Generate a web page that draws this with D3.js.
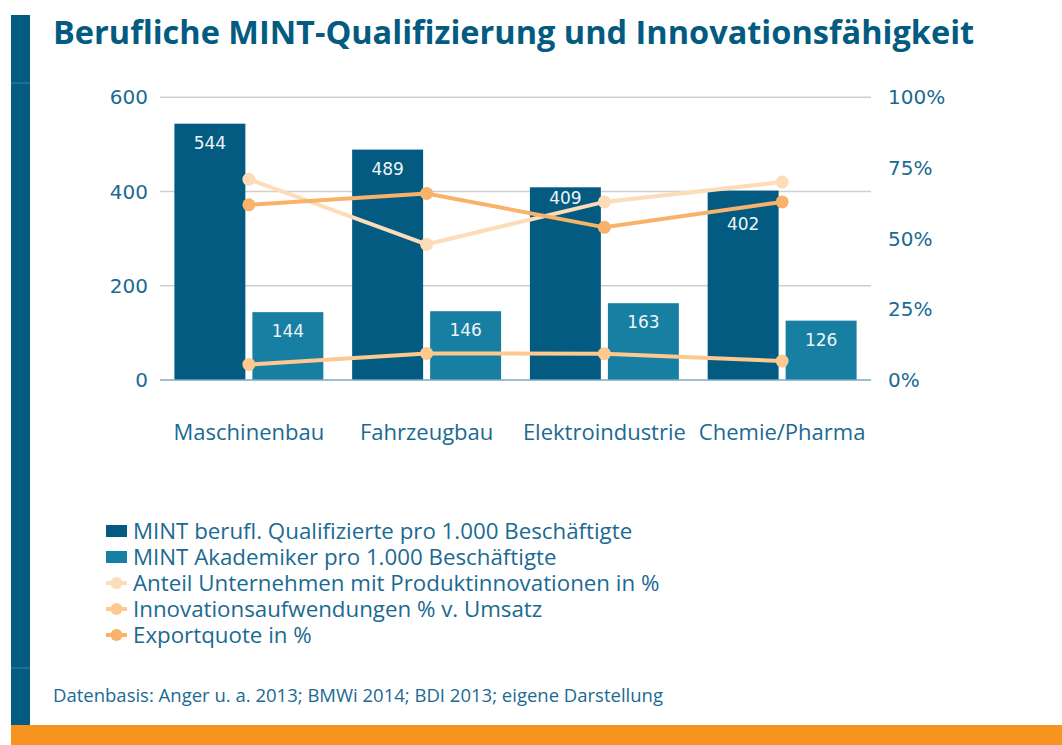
<!DOCTYPE html>
<html>
<head>
<meta charset="utf-8">
<script src="https://cdn.jsdelivr.net/npm/d3@7"></script>
<style>
  body { margin: 0; background: #fff; }
  svg { display: block; font-family: "Open Sans", sans-serif; }
  .tick-label { fill: #1b6a92; font-size: 20px; }
  .cat-label { fill: #1b6a92; font-size: 22px; }
  .legend-text { fill: #1b6a92; font-size: 22.3px; }
  .bar-value { fill: #eef4f8; font-size: 17px; text-anchor: middle; font-family: "DejaVu Sans", sans-serif; }
</style>
</head>
<body>
<svg id="chart" width="1062" height="745"></svg>
<script>
// chart data
var categories = ["Maschinenbau", "Fahrzeugbau", "Elektroindustrie", "Chemie/Pharma"];
var mint_beruflich = [544, 489, 409, 402];      // pro 1.000 Beschäftigte
var mint_akademiker = [144, 146, 163, 126];     // pro 1.000 Beschäftigte
var anteil_produktinno = [71, 48, 63, 70];      // %
var innovationsaufwand = [5.5, 9.4, 9.3, 6.7];  // % v. Umsatz
var exportquote = [62, 66, 54, 63];             // %

var left_ticks = [0, 200, 400, 600];
var right_ticks = [0, 25, 50, 75, 100];

var bar_series = [
  {name: "MINT berufl. Qualifizierte pro 1.000 Beschäftigte", values: mint_beruflich, color: "#035b81"},
  {name: "MINT Akademiker pro 1.000 Beschäftigte", values: mint_akademiker, color: "#177fa2"}
];
var line_series = [
  {name: "Anteil Unternehmen mit Produktinnovationen in %", values: anteil_produktinno, color: "#fddcb9"},
  {name: "Innovationsaufwendungen % v. Umsatz", values: innovationsaufwand, color: "#fec98f"},
  {name: "Exportquote in %", values: exportquote, color: "#f9b269"}
];

// labels of the dark bars nudged so they don't sit on the lines
var label_nudge = {"Elektroindustrie": -8, "Chemie/Pharma": 14};

var svg = d3.select("#chart");

// page frame: left stripe + orange footer band
svg.append("rect").attr("x", 11).attr("y", 15).attr("width", 19).attr("height", 710).attr("fill", "#035b81");
svg.append("line").attr("x1", 11).attr("x2", 30).attr("y1", 83).attr("y2", 83).attr("stroke", "#3f82a4").attr("stroke-width", 1);
svg.append("line").attr("x1", 11).attr("x2", 30).attr("y1", 668).attr("y2", 668).attr("stroke", "#3f82a4").attr("stroke-width", 1);
svg.append("rect").attr("x", 11).attr("y", 725).attr("width", 1051).attr("height", 20).attr("fill", "#f7941f");

// title
svg.append("text")
   .attr("x", 53).attr("y", 44)
   .attr("fill", "#035b81")
   .style("font-size", "32.5px").style("font-weight", "bold")
   .text("Berufliche MINT-Qualifizierung und Innovationsfähigkeit");

// plot area (note: "top" is reserved on window, so use plot_*)
var plot_left = 160, plot_right = 871, plot_top = 97.3, plot_bottom = 380;

var x0 = d3.scaleBand().domain(categories).range([plot_left, plot_right])
           .paddingInner(0.162).paddingOuter(0.081);
var x1 = d3.scaleBand().domain([0, 1]).range([0, x0.bandwidth()]).paddingInner(0.09);
var y = d3.scaleLinear().domain([0, 600]).range([plot_bottom, plot_top]);
var y2 = d3.scaleLinear().domain([0, 100]).range([plot_bottom, plot_top]);

// gridlines
svg.selectAll(".grid")
   .data(left_ticks.filter(d => d > 0))
   .enter().append("line")
   .attr("class", "grid")
   .attr("x1", plot_left).attr("x2", plot_right)
   .attr("y1", d => y(d)).attr("y2", d => y(d))
   .attr("stroke", "#cfcfcf").attr("stroke-width", 1.5);

// left axis labels
svg.selectAll(".ly")
   .data(left_ticks)
   .enter().append("text")
   .attr("class", "tick-label")
   .attr("x", 148).attr("y", d => y(d) + 7)
   .attr("text-anchor", "end")
   .style("font-family", "DejaVu Sans")
   .text(d => d);

// right axis labels
svg.selectAll(".ry")
   .data(right_ticks)
   .enter().append("text")
   .attr("class", "tick-label")
   .attr("x", 888).attr("y", d => y2(d) + 7)
   .style("font-family", "DejaVu Sans")
   .text(d => d + "%");

// bars
var groups = svg.selectAll(".group")
   .data(categories)
   .enter().append("g")
   .attr("transform", d => "translate(" + x0(d) + ",0)");

bar_series.forEach(function(s, si) {
    groups.append("rect")
          .attr("x", x1(si))
          .attr("width", x1.bandwidth())
          .attr("y", (d, i) => y(s.values[i]))
          .attr("height", (d, i) => plot_bottom - y(s.values[i]))
          .attr("fill", s.color);
});

// baseline
svg.append("line")
   .attr("x1", plot_left).attr("x2", plot_right)
   .attr("y1", plot_bottom).attr("y2", plot_bottom)
   .attr("stroke", "#7fa7c0").attr("stroke-width", 1.5);

// lines on the right axis
var cx = d => x0(d) + x0.bandwidth() / 2;

line_series.forEach(function(s) {
    var line = d3.line()
                 .x(d => cx(d[0]))
                 .y(d => y2(d[1]));
    var data = categories.map((c, i) => [c, s.values[i]]);

    svg.append("path")
       .datum(data)
       .attr("d", line)
       .attr("fill", "none")
       .attr("stroke", s.color)
       .attr("stroke-width", 4);

    svg.selectAll(null)
       .data(data)
       .enter().append("circle")
       .attr("cx", d => cx(d[0]))
       .attr("cy", d => y2(d[1]))
       .attr("r", 6.5)
       .attr("fill", s.color);
});

// bar values
bar_series.forEach(function(s, si) {
    groups.append("text")
          .attr("class", "bar-value")
          .attr("x", x1(si) + x1.bandwidth() / 2)
          .attr("y", (d, i) => y(s.values[i]) + 25 + (si === 0 ? (label_nudge[d] || 0) : 0))
          .text((d, i) => s.values[i]);
});

// category labels
svg.selectAll(".xl")
   .data(categories)
   .enter().append("text")
   .attr("class", "cat-label")
   .attr("x", cx).attr("y", 440)
   .attr("text-anchor", "middle")
   .text(d => d);

// legend
var legend = svg.append("g").attr("transform", "translate(106,531)");
var rowH = 26;

bar_series.forEach(function(s, i) {
    legend.append("rect")
          .attr("x", 0).attr("y", i * rowH - 6)
          .attr("width", 21).attr("height", 12)
          .attr("fill", s.color);
    legend.append("text")
          .attr("class", "legend-text")
          .attr("x", 27).attr("y", i * rowH + 7.5)
          .text(s.name);
});

line_series.forEach(function(s, j) {
    var i = j + 2;
    legend.append("line")
          .attr("x1", 0).attr("x2", 21)
          .attr("y1", i * rowH).attr("y2", i * rowH)
          .attr("stroke", s.color).attr("stroke-width", 4);
    legend.append("circle")
          .attr("cx", 10.5).attr("cy", i * rowH)
          .attr("r", 6)
          .attr("fill", s.color);
    legend.append("text")
          .attr("class", "legend-text")
          .attr("x", 27).attr("y", i * rowH + 7.5)
          .text(s.name);
});

// source note
svg.append("text")
   .attr("x", 53).attr("y", 702)
   .attr("fill", "#1b6a92")
   .style("font-size", "18.5px")
   .text("Datenbasis: Anger u. a. 2013; BMWi 2014; BDI 2013; eigene Darstellung");
</script>
</body>
</html>
